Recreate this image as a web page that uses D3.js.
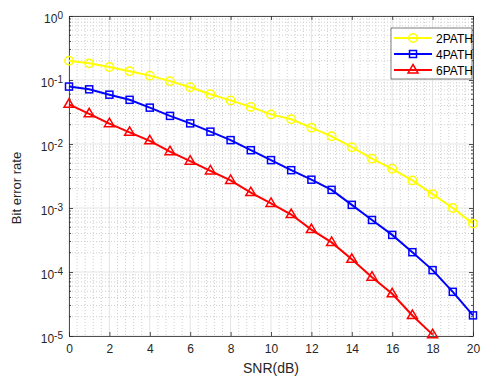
<!DOCTYPE html>
<html>
<head>
<meta charset="utf-8">
<script src="https://cdn.jsdelivr.net/npm/d3@7"></script>
<style>
  body { margin: 0; background: #fff; }
  svg { display: block; font-family: "Liberation Sans", Arial, sans-serif; }
</style>
</head>
<body>
<div id="chart"></div>
<script>
// data
var snr = [0,1,2,3,4,5,6,7,8,9,10,11,12,13,14,15,16,17,18,19,20];
var path2 = [0.2,0.182,0.16,0.137,0.117,0.096,0.077,0.06,0.048,0.038,0.029,0.0244,0.018,0.0132,0.0089,0.0059,0.0041,0.0027,0.00165,0.001,0.00057];
var path4 = [0.079,0.0715,0.059,0.049,0.037,0.0275,0.021,0.0156,0.0115,0.008,0.0056,0.0039,0.00277,0.00192,0.00112,0.00065,0.00038,0.000204,0.000107,0.000049,0.000021];
var path6 = [0.0417,0.0296,0.0208,0.0152,0.0112,0.0076,0.0054,0.0038,0.0027,0.00174,0.00118,0.00079,0.00046,0.00029,0.000158,0.000083,0.0000457,0.0000209,0.0000105];
var xTicks = [0,2,4,6,8,10,12,14,16,18,20];
var yExp = [0,-1,-2,-3,-4,-5];
var seriesNames = ["2PATH","4PATH","6PATH"];

var W = 504, H = 382;
var margin = {top: 16, right: 31, bottom: 46, left: 69};
var width = W - margin.left - margin.right,
    height = H - margin.top - margin.bottom;

var x = d3.scaleLinear().domain([0, 20]).range([0, width]);
var y = d3.scaleLog().domain([1e-5, 1]).range([height, 0]);

var svg = d3.select("#chart").append("svg")
  .attr("width", W).attr("height", H);
var g = svg.append("g")
  .attr("transform", "translate(" + margin.left + "," + margin.top + ")");

// minor grid
var yMinor = [];
yExp.forEach(function(e){
  if (e === 0) return;
  for (var k = 2; k <= 9; k++) yMinor.push(k * Math.pow(10, e));
});
var xMinor = d3.range(0, 20.001, 0.4).filter(function(v){ return Math.abs(v/2 - Math.round(v/2)) > 1e-6; });

g.append("g").selectAll("line").data(yMinor).enter().append("line")
  .attr("x1", 0).attr("x2", width)
  .attr("y1", function(d){ return y(d); }).attr("y2", function(d){ return y(d); })
  .attr("stroke", "#cfcfcf").attr("stroke-dasharray", "1,2");
g.append("g").selectAll("line").data(xMinor).enter().append("line")
  .attr("y1", 0).attr("y2", height)
  .attr("x1", function(d){ return x(d); }).attr("x2", function(d){ return x(d); })
  .attr("stroke", "#cfcfcf").attr("stroke-dasharray", "1,2");

// major grid
g.append("g").selectAll("line").data(yExp).enter().append("line")
  .attr("x1", 0).attr("x2", width)
  .attr("y1", function(d){ return y(Math.pow(10, d)); }).attr("y2", function(d){ return y(Math.pow(10, d)); })
  .attr("stroke", "#e3e3e3");
g.append("g").selectAll("line").data(xTicks).enter().append("line")
  .attr("y1", 0).attr("y2", height)
  .attr("x1", function(d){ return x(d); }).attr("x2", function(d){ return x(d); })
  .attr("stroke", "#e3e3e3");

// axes
var axisColor = "#262626";
var xAxis = d3.axisBottom(x).tickValues(xTicks).tickSizeInner(-4).tickSizeOuter(0).tickPadding(8);
var xAxisTop = d3.axisTop(x).tickValues(xTicks).tickSizeInner(-4).tickSizeOuter(0).tickFormat("");
var yAxis = d3.axisLeft(y).tickValues(yExp.map(function(e){ return Math.pow(10, e); })).tickSizeInner(-4).tickSizeOuter(0).tickFormat("");
var yAxisRight = d3.axisRight(y).tickValues(yExp.map(function(e){ return Math.pow(10, e); })).tickSizeInner(-4).tickSizeOuter(0).tickFormat("");

function style(sel) {
  sel.selectAll("path").attr("stroke", axisColor).attr("stroke-width", 0.8);
  sel.selectAll("line").attr("stroke", axisColor).attr("stroke-width", 0.8);
  sel.selectAll("text").attr("fill", "#262626").style("font-size", "12px");
}

g.append("g").attr("transform", "translate(0," + height + ")").call(xAxis).call(style);
g.append("g").call(xAxisTop).call(style);
g.append("g").call(yAxis).call(style);
g.append("g").attr("transform", "translate(" + width + ",0)").call(yAxisRight).call(style);

// minor y ticks
[0, width].forEach(function(px){
  var dir = px === 0 ? 1 : -1;
  g.append("g").selectAll("line").data(yMinor).enter().append("line")
    .attr("x1", px).attr("x2", px + dir * 2)
    .attr("y1", function(d){ return y(d); }).attr("y2", function(d){ return y(d); })
    .attr("stroke", axisColor).attr("stroke-width", 0.8);
});

// y tick labels 10^n
var yl = g.append("g").selectAll("text").data(yExp).enter().append("text")
  .attr("x", -6)
  .attr("y", function(d){ return y(Math.pow(10, d)) + 6.5; })
  .attr("text-anchor", "end")
  .attr("fill", "#262626")
  .style("font-size", "12px");
yl.append("tspan").text("10");
yl.append("tspan").attr("dy", -4).style("font-size", "10px").text(function(d){ return d === 0 ? "0" : "-" + Math.abs(d); });

// axis labels
svg.append("text")
  .attr("x", margin.left + width / 2).attr("y", 373)
  .attr("text-anchor", "middle").attr("fill", "#262626")
  .style("font-size", "14px").text("SNR(dB)");
svg.append("text")
  .attr("transform", "translate(21,188) rotate(-90)")
  .attr("text-anchor", "middle").attr("fill", "#262626")
  .style("font-size", "13px").text("Bit error rate");

// series
var series = [
  {name: seriesNames[0], values: path2, color: "#ffff00", marker: "circle"},
  {name: seriesNames[1], values: path4, color: "#0000ff", marker: "square"},
  {name: seriesNames[2], values: path6, color: "#ff0000", marker: "triangle"}
];

var line = d3.line()
  .x(function(d){ return x(d[0]); })
  .y(function(d){ return y(d[1]); });

function marker(sel, type, color) {
  if (type === "circle") {
    sel.append("circle").attr("r", 4.2);
  } else if (type === "square") {
    sel.append("rect").attr("x", -3.5).attr("y", -3.5).attr("width", 7).attr("height", 7);
  } else {
    sel.append("path").attr("d", "M0,-5.5L5,3L-5,3Z");
  }
  sel.selectAll("*").attr("fill", "none").attr("stroke", color).attr("stroke-width", 1.5);
}

series.forEach(function(s){
  var pts = s.values.map(function(v, i){ return [snr[i], v]; });
  g.append("path").datum(pts)
    .attr("d", line)
    .attr("fill", "none").attr("stroke", s.color).attr("stroke-width", 2);
  g.append("g").selectAll("g").data(pts).enter().append("g")
    .attr("transform", function(d){ return "translate(" + x(d[0]) + "," + y(d[1]) + ")"; })
    .each(function(){ marker(d3.select(this), s.marker, s.color); });
});

// legend
var lg = g.append("g").attr("transform", "translate(" + (width - 82) + ",12)");
lg.append("rect").attr("width", 81).attr("height", 51)
  .attr("fill", "#fff").attr("stroke", "#262626").attr("stroke-width", 0.6);
series.forEach(function(s, i){
  var row = lg.append("g").attr("transform", "translate(0," + (10 + i * 16) + ")");
  row.append("line").attr("x1", 3).attr("x2", 41).attr("y1", 0).attr("y2", 0)
    .attr("stroke", s.color).attr("stroke-width", 2);
  var m = row.append("g").attr("transform", "translate(22,0)");
  marker(m, s.marker, s.color);
  row.append("text").attr("x", 45).attr("y", 4.5)
    .attr("fill", "#000").style("font-size", "12px").text(s.name);
});
</script>
</body>
</html>
